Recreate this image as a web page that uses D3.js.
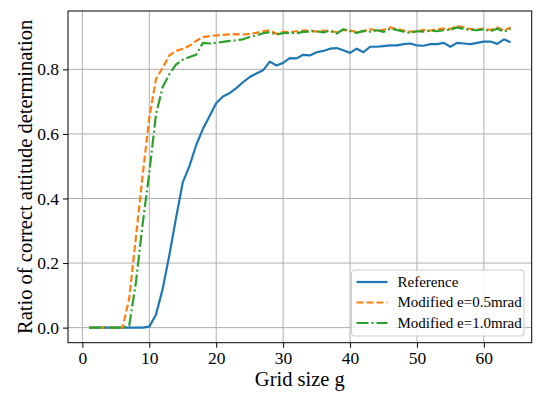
<!DOCTYPE html>
<html>
<head>
<meta charset="utf-8">
<script src="https://cdn.jsdelivr.net/npm/d3@7"></script>
<style>
  body { margin: 0; background: #fff; }
</style>
</head>
<body>
<svg width="550" height="397"></svg>
<script>
// grid size g = 1..64
var gridSize = d3.range(1, 65);

var seriesNames = ["Reference", "Modified e=0.5mrad", "Modified e=1.0mrad"];

var referenceValues = [
  0, 0, 0, 0, 0, 0, 0, 0, 0, 0.003,
  0.04, 0.12, 0.225, 0.34, 0.45, 0.5, 0.565, 0.615, 0.655, 0.695,
  0.716, 0.726, 0.742, 0.76, 0.776, 0.787, 0.797, 0.824, 0.812, 0.82,
  0.835, 0.834, 0.845, 0.843, 0.853, 0.857, 0.864, 0.866, 0.859, 0.851,
  0.864, 0.853, 0.87, 0.87, 0.872, 0.874, 0.874, 0.878, 0.88, 0.874,
  0.873, 0.878, 0.878, 0.882, 0.87, 0.882, 0.88, 0.878, 0.882, 0.886,
  0.886, 0.879, 0.893, 0.884
];

var modified05Values = [
  0, 0, 0, 0, 0, 0, 0.09, 0.28, 0.47, 0.65,
  0.77, 0.805, 0.843, 0.857, 0.864, 0.873, 0.888, 0.9, 0.903, 0.905,
  0.907, 0.908, 0.909, 0.908, 0.91, 0.913, 0.918, 0.921, 0.91, 0.916,
  0.915, 0.918, 0.92, 0.921, 0.917, 0.92, 0.919, 0.915, 0.922, 0.921,
  0.915, 0.918, 0.925, 0.92, 0.922, 0.93, 0.925, 0.92, 0.917, 0.918,
  0.922, 0.92, 0.924, 0.926, 0.925, 0.934, 0.93, 0.925, 0.924, 0.926,
  0.922, 0.93, 0.92, 0.93
];

var modified10Values = [
  0, 0, 0, 0, 0, 0, 0.006, 0.14, 0.32, 0.48,
  0.66, 0.745, 0.785, 0.815, 0.83, 0.838, 0.845, 0.882, 0.88, 0.882,
  0.885, 0.888, 0.89, 0.893, 0.9, 0.905, 0.912, 0.915, 0.908, 0.912,
  0.913, 0.912, 0.916, 0.917, 0.918, 0.914, 0.92, 0.911, 0.924, 0.918,
  0.913, 0.919, 0.917, 0.921, 0.916, 0.926, 0.922, 0.917, 0.913, 0.918,
  0.917, 0.92, 0.918, 0.921, 0.923, 0.93, 0.925, 0.922, 0.921, 0.924,
  0.918, 0.926, 0.917, 0.926
];

var xTicks = [0, 10, 20, 30, 40, 50, 60];
var yTicks = [0.0, 0.2, 0.4, 0.6, 0.8];

var serif = "'Liberation Serif'";

var svg = d3.select("svg");

var plot = { left: 68, top: 11, right: 531.7, bottom: 342.7 };

// matplotlib style 5% margins
var xMin = d3.min(gridSize), xMax = d3.max(gridSize);
var xPad = (xMax - xMin) * 0.05;
var yAll = referenceValues.concat(modified05Values, modified10Values);
var yMin = d3.min(yAll), yMax = d3.max(yAll);
var yPad = (yMax - yMin) * 0.05;

var x = d3.scaleLinear().domain([xMin - xPad, xMax + xPad]).range([plot.left, plot.right]);
var y = d3.scaleLinear().domain([yMin - yPad, yMax + yPad]).range([plot.bottom, plot.top]);

var series = [
  { name: seriesNames[0], values: referenceValues, color: "#1f77b4", dash: null },
  { name: seriesNames[1], values: modified05Values, color: "#ff7f0e", dash: "7,3" },
  { name: seriesNames[2], values: modified10Values, color: "#2ca02c", dash: "12,3,2,3" }
];

// grid
var grid = svg.append("g").attr("class", "grid");
grid.selectAll(".gx").data(xTicks).enter().append("line")
  .attr("x1", function(d) { return x(d); })
  .attr("x2", function(d) { return x(d); })
  .attr("y1", plot.top).attr("y2", plot.bottom)
  .attr("stroke", "#b0b0b0").attr("stroke-width", 1);
grid.selectAll(".gy").data(yTicks).enter().append("line")
  .attr("y1", function(d) { return y(d); })
  .attr("y2", function(d) { return y(d); })
  .attr("x1", plot.left).attr("x2", plot.right)
  .attr("stroke", "#b0b0b0").attr("stroke-width", 1);

// lines
var line = d3.line()
  .x(function(d, i) { return x(gridSize[i]); })
  .y(function(d) { return y(d); });

svg.append("defs").append("clipPath").attr("id", "clip")
  .append("rect")
  .attr("x", plot.left).attr("y", plot.top)
  .attr("width", plot.right - plot.left).attr("height", plot.bottom - plot.top);

svg.append("g").attr("clip-path", "url(#clip)")
  .selectAll("path").data(series).enter().append("path")
  .attr("d", function(d) { return line(d.values); })
  .attr("fill", "none")
  .attr("stroke", function(d) { return d.color; })
  .attr("stroke-width", 2.2)
  .attr("stroke-dasharray", function(d) { return d.dash; })
  .attr("stroke-linejoin", "round");

// axes
var xAxis = svg.append("g")
  .attr("transform", "translate(0," + plot.bottom + ")")
  .call(d3.axisBottom(x).tickValues(xTicks).tickSize(5).tickPadding(4).tickFormat(d3.format("d")));
var yAxis = svg.append("g")
  .attr("transform", "translate(" + plot.left + ",0)")
  .call(d3.axisLeft(y).tickValues(yTicks).tickSize(5).tickPadding(4).tickFormat(d3.format(".1f")));

[xAxis, yAxis].forEach(function(a) {
  a.attr("font-family", null).attr("font-size", null);
  a.select(".domain").remove();
  a.selectAll("line").attr("stroke", "#000").attr("stroke-width", 1);
  a.selectAll("text")
    .style("font-family", serif)
    .style("font-size", "17.5px")
    .attr("fill", "#000");
});

// frame
svg.append("rect")
  .attr("x", plot.left).attr("y", plot.top)
  .attr("width", plot.right - plot.left).attr("height", plot.bottom - plot.top)
  .attr("fill", "none").attr("stroke", "#000").attr("stroke-width", 1);

// axis labels
svg.append("text")
  .attr("x", (plot.left + plot.right) / 2).attr("y", 386)
  .attr("text-anchor", "middle")
  .style("font-family", serif)
  .style("font-size", "20.5px")
  .text("Grid size g");

svg.append("text")
  .attr("transform", "translate(32," + (plot.top + plot.bottom) / 2 + ") rotate(-90)")
  .attr("text-anchor", "middle")
  .style("font-family", serif)
  .style("font-size", "20.5px")
  .text("Ratio of correct attitude determination");

// legend
var legend = svg.append("g").attr("transform", "translate(351.5,270)");
legend.append("rect")
  .attr("width", 172.5).attr("height", 66)
  .attr("rx", 3)
  .attr("fill", "#fff").attr("fill-opacity", 0.8)
  .attr("stroke", "#cccccc").attr("stroke-width", 1);

var item = legend.selectAll(".item").data(series).enter().append("g")
  .attr("transform", function(d, i) { return "translate(0," + (12 + i * 20.5) + ")"; });
item.append("line")
  .attr("x1", 5).attr("x2", 36)
  .attr("stroke", function(d) { return d.color; })
  .attr("stroke-width", 2.2)
  .attr("stroke-dasharray", function(d) { return d.dash; });
item.append("text")
  .attr("x", 46).attr("dy", "0.33em")
  .style("font-family", serif)
  .style("font-size", "15px")
  .text(function(d) { return d.name; });
</script>
</body>
</html>
